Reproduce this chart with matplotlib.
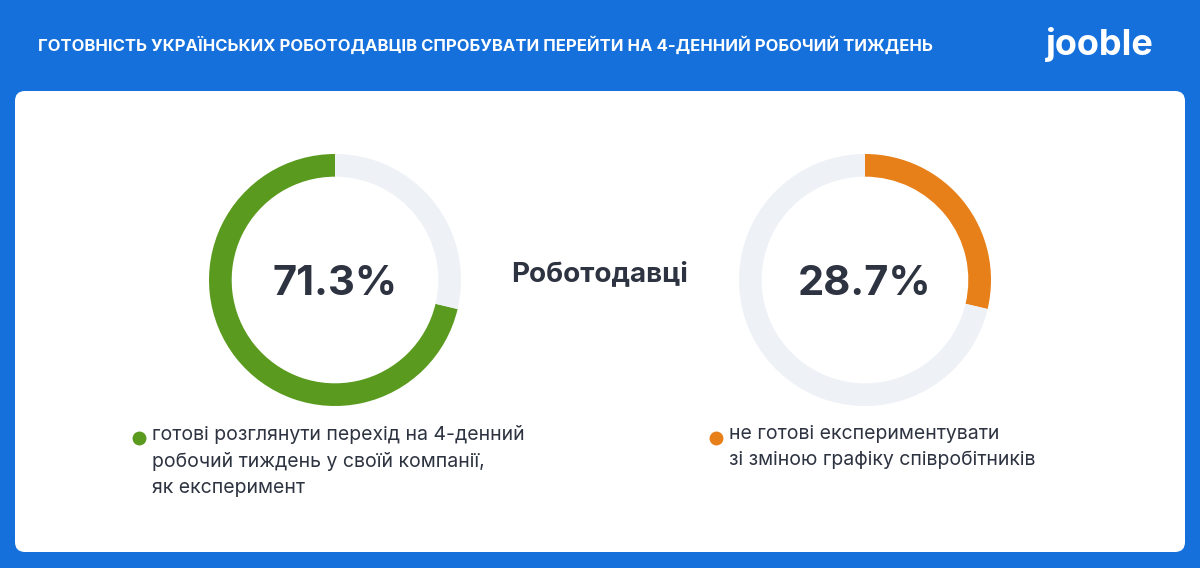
import matplotlib
matplotlib.use("Agg")
import matplotlib.pyplot as plt
from matplotlib.patches import FancyBboxPatch

title = "ГОТОВНІСТЬ УКРАЇНСЬКИХ РОБОТОДАВЦІВ СПРОБУВАТИ ПЕРЕЙТИ НА 4-ДЕННИЙ РОБОЧИЙ ТИЖДЕНЬ"
center_label = "Роботодавці"
values = [71.3, 28.7]
colors = ["#5a9a1e", "#e8801a"]
legends = ["готові розглянути перехід на 4-денний\nробочий тиждень у своїй компанії,\nяк експеримент",
           "не готові експериментувати\nзі зміною графіку співробітників"]

W, H = 1200, 568
fig = plt.figure(figsize=(W/100, H/100), dpi=100)
fig.patch.set_facecolor("#1670db")
bg = fig.add_axes([0, 0, 1, 1])
bg.set_xlim(0, W); bg.set_ylim(H, 0); bg.axis("off")
bg.add_patch(FancyBboxPatch((15, 91), 1170, 461, boxstyle="round,pad=0,rounding_size=10",
                            fc="white", ec="none"))
bg.text(38, 45, title, color="white", fontsize=12, fontweight="bold", family="Inter", va="center")
bg.text(1100, 44, "jooble", color="white", fontsize=26, fontweight="bold", family="Inter",
        va="center", ha="center")
bg.text(600, 274, center_label, color="#2d3340", fontsize=20, fontweight="bold", family="Inter",
        va="center", ha="center")

centers = [335, 865]
legx = [133, 710]
for i, (v, c) in enumerate(zip(values, colors)):
    r = 126
    ax = fig.add_axes([(centers[i]-r)/W, 1-(280+r)/H, 2*r/W, 2*r/H])
    ax.pie([v, 100-v], colors=[c, "#eef1f6"], startangle=90, counterclock=(i == 0),
           wedgeprops=dict(width=0.18, edgecolor="none"))
    ax.set_xlim(-1, 1); ax.set_ylim(-1, 1)
    ax.set_aspect("equal")
    ax.text(0, -0.03, f"{v}%", ha="center", va="center", fontsize=30, fontweight="bold",
            family="Inter", color="#2d3340")
    bg.plot(legx[i]+6, 438, "o", color=c, markersize=9)
    bg.text(legx[i]+19, 425, legends[i], color="#2d3340", fontsize=14, family="Inter",
            va="top", linespacing=1.55)

fig.savefig("out.png", dpi=100, facecolor=fig.get_facecolor())
